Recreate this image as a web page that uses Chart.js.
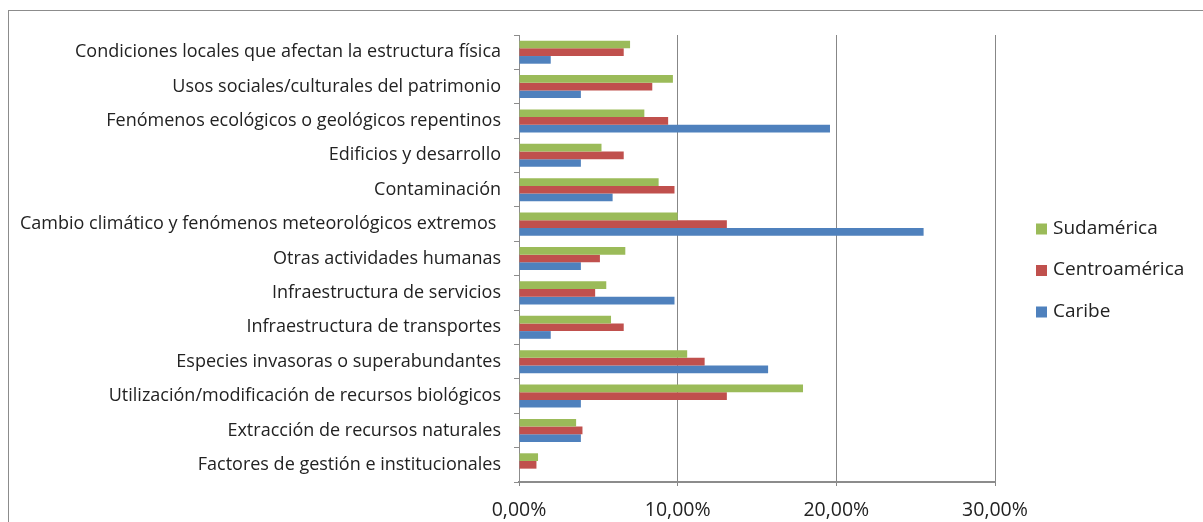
<!DOCTYPE html>
<html><head><meta charset="utf-8">
<script src="https://cdn.jsdelivr.net/npm/chart.js@4.4.1/dist/chart.umd.min.js"></script>
<style>
html,body{margin:0;padding:0;background:#fff;}
#wrap{position:relative;width:1203px;height:522px;overflow:hidden;}
#frame{position:absolute;left:8px;top:10px;width:1400px;height:700px;border:1px solid #8c8c8c;box-sizing:border-box;}
canvas{position:absolute;left:0;top:0;}
</style></head>
<body><div id="wrap"><div id="frame"></div><canvas id="c" width="1203" height="522"></canvas></div>
<script>
const categories = [
  "Condiciones locales que afectan la estructura física",
  "Usos sociales/culturales del patrimonio",
  "Fenómenos ecológicos o geológicos repentinos",
  "Edificios y desarrollo",
  "Contaminación",
  "Cambio climático y fenómenos meteorológicos extremos ",
  "Otras actividades humanas",
  "Infraestructura de servicios",
  "Infraestructura de transportes",
  "Especies invasoras o superabundantes",
  "Utilización/modificación de recursos biológicos",
  "Extracción de recursos naturales",
  "Factores de gestión e institucionales"
];
const seriesNames = ["Sudamérica", "Centroamérica", "Caribe"];
const sudamerica    = [7.0, 9.7, 7.9, 5.2, 8.8, 10.0, 6.7, 5.5, 5.8, 10.6, 17.9, 3.6, 1.2];
const centroamerica = [6.6, 8.4, 9.4, 6.6, 9.8, 13.1, 5.1, 4.8, 6.6, 11.7, 13.1, 4.0, 1.1];
const caribe        = [2.0, 3.9, 19.6, 3.9, 5.9, 25.5, 3.9, 9.8, 2.0, 15.7, 3.9, 3.9, 0.0];
const xTicks = [0, 10, 20, 30];
const colors = ["#9BBB59", "#C0504D", "#4F81BD"];

const FONT = "'Open Sans', sans-serif";

const legendPlugin = {
  id: 'customLegend',
  afterDraw(chart) {
    const ctx = chart.ctx;
    const x0 = chart.chartArea.right + 41;
    const yc = 270;
    const gap = 41.5;
    ctx.save();
    ctx.font = "19px " + FONT;
    ctx.textBaseline = "middle";
    ctx.textAlign = "left";
    chart.data.datasets.forEach((ds, i) => {
      const y = yc + (i - 1) * gap;
      ctx.fillStyle = ds.backgroundColor;
      ctx.fillRect(x0, y - 5, 11, 11);
      ctx.fillStyle = "#222";
      ctx.fillText(ds.label, x0 + 17, y);
    });
    ctx.restore();
  }
};

new Chart(document.getElementById('c'), {
  type: 'bar',
  data: {
    labels: categories,
    datasets: [
      { label: seriesNames[0], data: sudamerica, backgroundColor: colors[0] },
      { label: seriesNames[1], data: centroamerica, backgroundColor: colors[1] },
      { label: seriesNames[2], data: caribe, backgroundColor: colors[2] }
    ]
  },
  options: {
    indexAxis: 'y',
    responsive: false,
    animation: false,
    devicePixelRatio: 1,
    categoryPercentage: 0.67,
    barPercentage: 1.0,
    layout: { padding: { top: 35, left: 8, right: 208, bottom: 0 } },
    plugins: { legend: { display: false }, tooltip: { enabled: false } },
    scales: {
      x: {
        min: 0, max: 30,
        afterBuildTicks: (scale) => { scale.ticks = xTicks.map(v => ({ value: v })); },
        afterFit: (scale) => { scale.height = 40; },
        grid: { color: "#878787", lineWidth: 1, tickLength: 4, drawTicks: true },
        border: { color: "#8c8c8c", width: 2 },
        ticks: {
          padding: 13,
          color: "#222",
          font: { family: FONT, size: 19.5 },
          callback: (v) => v.toFixed(2).replace('.', ',') + '%'
        }
      },
      y: {
        afterFit: (scale) => { scale.width = 511; },
        grid: { display: true, drawOnChartArea: false, offset: true, tickLength: 5, color: "#8c8c8c" },
        border: { color: "#8c8c8c", width: 1 },
        ticks: {
          padding: 13,
          color: "#222",
          autoSkip: false,
          font: { family: FONT, size: 18 }
        }
      }
    }
  },
  plugins: [legendPlugin]
});
</script>
</body></html>
